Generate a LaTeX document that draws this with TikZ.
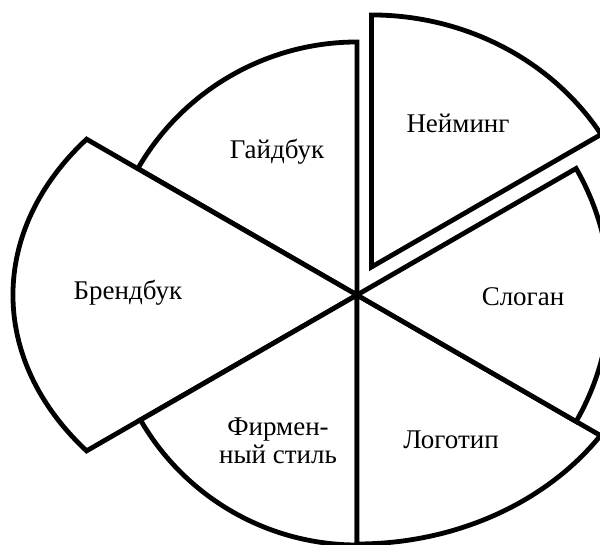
\documentclass[tikz,border=0pt]{standalone}
\usepackage{fontspec}
\setmainfont{Liberation Serif}
\begin{document}
\begin{tikzpicture}[x=1pt,y=1pt,
  sector/.style={draw=black,fill=white,line width=4.8pt,line join=miter},
  lbl/.style={font=\fontsize{27}{28.5}\selectfont,align=center,inner sep=0pt}]
\useasboundingbox (-357,-250) rectangle (243,295);
\clip (-357,-250) rectangle (243,295);
\coordinate (C) at (0,0);
\coordinate (A) at (14.5,28);
% Гайдбук
\draw[sector] (C) -- (90:253) arc[start angle=90,end angle=150,radius=253] -- cycle;
% Брендбук
\draw[sector] (C) -- (-270.4,155.8) arc[start angle=141.8,end angle=218.2,x radius=344,y radius=252] -- cycle;
% Фирменный стиль
\draw[sector] (C) -- (210:250) arc[start angle=210,end angle=270,radius=250] -- cycle;
% Логотип
\draw[sector] (C) -- (0,-249) arc[start angle=270,end angle=325.63,x radius=295,y radius=249] -- cycle;
% Слоган
\draw[sector] (C) -- (-30:253) arc[start angle=-30,end angle=30,radius=253] -- cycle;
% Нейминг
\draw[sector] (A) -- ++(229.6,132.6) arc[start angle=31.74,end angle=90,x radius=270,y radius=252] -- cycle;
\node[lbl] (neim) at (101,172) {Нейминг};
\node[lbl] (gaid) at (-80,143) {Гайдбук};
\node[lbl] (brend) at (-229,2) {Брендбук};
\node[lbl] (slog) at (166,-2) {Слоган};
\node[lbl] (logo) at (94,-145) {Логотип};
\node[lbl] (firm) at (-79,-146) {Фирмен-\\ный стиль};
\end{tikzpicture}
\end{document}
